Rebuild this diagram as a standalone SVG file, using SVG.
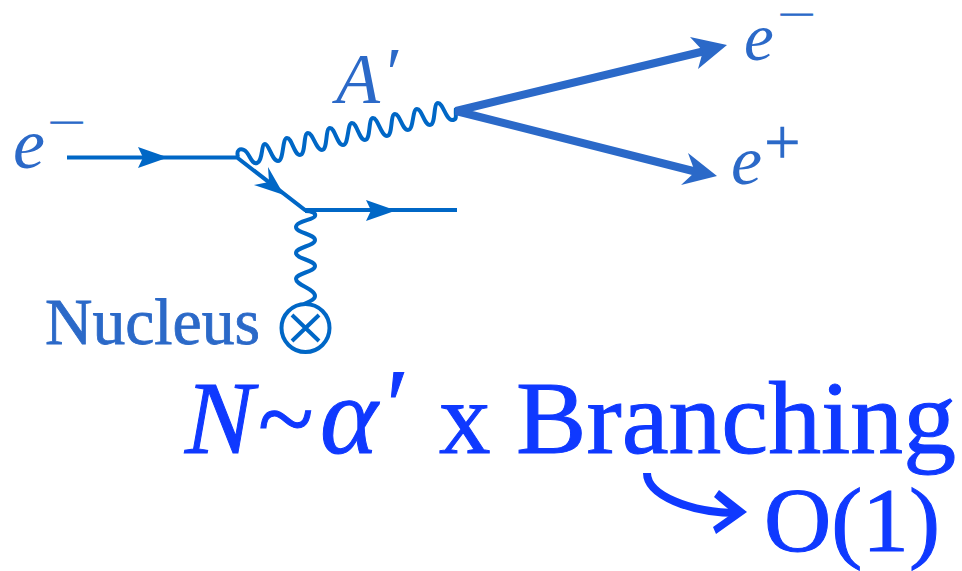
<svg xmlns="http://www.w3.org/2000/svg" width="962" height="571" viewBox="0 0 962 571">
<style>
.t{font-family:"Liberation Serif",serif;fill:#2b69c8}
.i{font-style:italic}
.m{font-size:25px;stroke:#2b69c8;stroke-width:.9px}
.b{font-family:"Liberation Serif",serif;fill:#0f39ff;stroke:#0f39ff;stroke-width:1px}
.l{fill:none;stroke:#0067c6;stroke-width:4}
.h{fill:#0067c6}
.tk{fill:none;stroke:#2b69c8;stroke-width:8}
.th{fill:#2b69c8}
</style>
<g id="connectors">
<path class="l" d="M67,157.500H237L305,210H457"/>
<path class="h" d="M138,147L168,157.500L138,168L143,157.500Z"/>
<path class="h" d="M366,200L396,210.500L366,221L371,210.500Z"/>
<path class="h" d="M268,167L284,195L254,185L269,182Z"/>
<path class="l" d="M238,157C236,150 240,148 244,150C250,153 251,165 257,163S261,144 265,144S272,161 278,161S282,138 287,138S294,155 300,155S303,133 308,133S316,150 322,150S325,128 330,128S337,145 343,145S347,123 352,123S359,140 365,140S368,118 373,118S381,136 387,136S390,114 395,114S402,130 408,130S412,109 417,109S424,125 430,125S433,103 438,103S446,120 452,120S455,115 456,108"/>
<path class="l" d="M305,211C312,211 316,213 315,216C314,220 296,221 296,227C296,233 315,234 315,240C315,246 296,247 296,253C296,259 315,260 315,266C315,272 296,273 296,279C296,285 315,289 315,296C315,300 308,302 304,304"/>
<path class="tk" d="M705,51L456,111L697,172"/>
<path class="th" d="M690,37L727,45L698,69L703,51Z"/>
<path class="th" d="M688,153L717,176L681,185L695,172Z"/>
<path fill="none" stroke="#0f39ff" stroke-width="8" d="M647,473C647,495 690,513 738,513"/>
<path fill="#0f39ff" d="M719,490L747,512L716,534L713,527L733,513L714,497Z"/>
</g>
<g id="electron-in"><text class="t i" x="13" y="168" font-size="72">e</text><text class="t m" x="48" y="131" textLength="37" lengthAdjust="spacingAndGlyphs">−</text></g>
<g id="aprime"><text class="t i" x="336" y="103" font-size="72">A</text><text class="t i" x="382" y="97" font-size="72">′</text></g>
<g id="electron-out"><text class="t i" x="744" y="60" font-size="67">e</text><text class="t m" x="778" y="22.500" textLength="37" lengthAdjust="spacingAndGlyphs">−</text></g>
<g id="positron-out"><text class="t i" x="731" y="184" font-size="70">e</text><text class="t" x="764" y="164" font-size="65" stroke="#2b69c8" stroke-width=".4">+</text></g>
<g id="nucleus"><text class="t" x="45" y="344" font-size="66" textLength="215" lengthAdjust="spacingAndGlyphs" stroke="#2b69c8" stroke-width=".8">Nucleus</text>
<circle cx="305.500" cy="328" r="24" fill="none" stroke="#0067c6" stroke-width="4"/>
<path class="l" d="M292,315L319,341M319,315L292,341"/></g>
<g id="formula"><text class="b i" x="185" y="453" font-size="103">N</text><text class="b" x="258" y="453" font-size="103">~</text><text class="b i" x="320" y="453" font-size="110">α</text><text class="b i" x="380" y="441" font-size="103">′</text><text class="b" x="439" y="453" font-size="103">x</text><text class="b" x="516" y="453" font-size="103" textLength="440" lengthAdjust="spacingAndGlyphs">Branching</text></g>
<g id="order"><text class="b" x="764" y="551" font-size="90" textLength="176" lengthAdjust="spacingAndGlyphs">O(1)</text></g>
</svg>
